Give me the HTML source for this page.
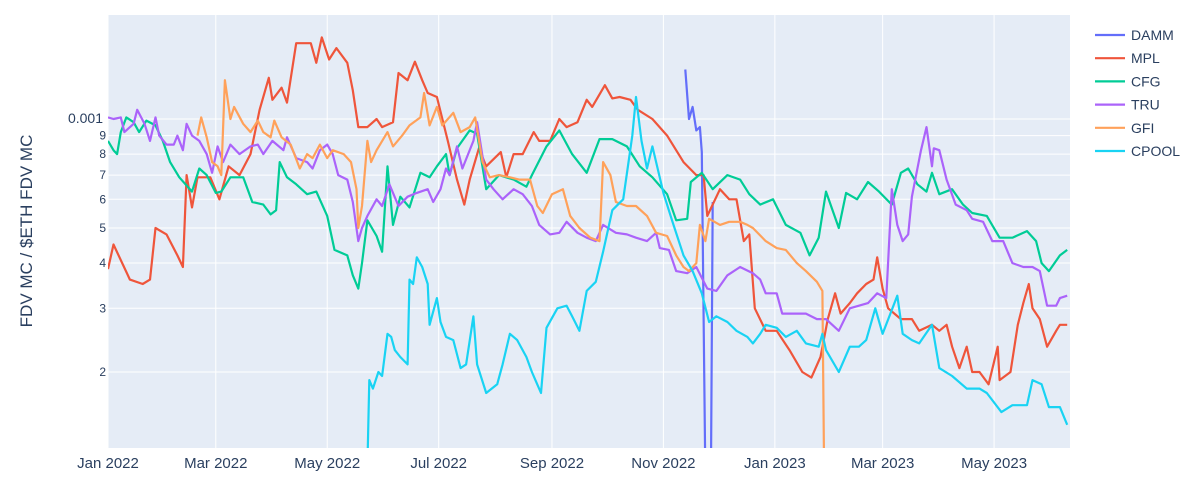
<!DOCTYPE html>
<html><head><meta charset="utf-8"><style>
body{margin:0;background:#fff;font-family:"Liberation Sans",sans-serif;}
svg text{font-family:"Liberation Sans",sans-serif;fill:#2a3f5f;}
</style></head><body>
<svg id="chart" width="1200" height="478" xmlns="http://www.w3.org/2000/svg">
<defs><clipPath id="clip"><rect x="108" y="15" width="962" height="433"/></clipPath></defs>
<rect x="108" y="15" width="962" height="433" fill="#E5ECF6"/>
<g id="grid"></g>
<g id="series" clip-path="url(#clip)"></g>
<g id="axes"></g>
<text transform="translate(32,231) rotate(-90)" text-anchor="middle" font-size="17">FDV MC / $ETH FDV MC</text>
<g id="legend"></g>
</svg>
<script>
// values in units of 1e-4; days since 2022-01-01
const xTickDays = [0,59,120,181,243,304,365,424,485];
const xTickLabels = ["Jan 2022","Mar 2022","May 2022","Jul 2022","Sep 2022","Nov 2022","Jan 2023","Mar 2023","May 2023"];
const yTickVals = [10,9,8,7,6,5,4,3,2];
const yTickLabels = ["0.001","9","8","7","6","5","4","3","2"];
const seriesNames = ["DAMM","MPL","CFG","TRU","GFI","CPOOL"];
const seriesColors = ["#636efa","#EF553B","#00cc96","#ab63fa","#FFA15A","#19d3f3"];

const dammDays = [316,318,320,322,324,325,327,330,331];
const dammVals = [13.7,10,10.8,9.3,9.5,8.1,1.0,1.0,5.9];

const mplDays = [0,3,12,19,23,26,32,38,41,43,46,49,56,61,66,72,78,83,88,90,95,98,103,111,114,117,121,125,131,134,137,142,147,150,156,159,164,168,172,175,180,186,191,195,198,203,207,215,218,222,227,233,236,242,247,251,257,262,265,272,276,280,286,290,298,306,315,322,326,328,335,340,344,348,351,354,360,366,373,380,385,390,394,398,401,406,410,415,419,421,424,427,434,440,444,451,455,459,462,466,470,473,477,482,487,488,494,498,501,504,506,510,514,519,521,525];
const mplVals = [3.85,4.5,3.6,3.5,3.6,5.0,4.8,4.2,3.9,7.0,5.7,6.9,6.9,6.0,7.4,7.0,8.0,10.6,13.0,11.3,12.2,11.1,16.2,16.2,14.3,16.8,14.6,15.7,14.3,12,9.5,9.5,10,9.5,9.8,13.4,12.8,14.4,12.8,11.8,11.5,8.7,6.8,5.8,6.8,8.3,7.4,8.1,6.9,8.0,8.0,9.2,8.7,8.7,10,9.5,9.8,11.3,10.8,12.4,11.4,11.5,11.3,10.6,10,9.0,7.6,7.0,7.0,5.4,6.4,6.0,6.0,4.6,4.8,3.0,2.6,2.6,2.3,2.0,1.93,2.2,2.8,3.3,2.9,3.1,3.3,3.5,3.6,4.15,3.4,3.0,2.8,2.8,2.6,2.7,2.6,2.7,2.35,2.05,2.35,2.0,2.0,1.85,2.35,1.9,2.0,2.7,3.1,3.5,3.0,2.8,2.35,2.6,2.7,2.7];

const cfgDays = [0,3,5,7,10,14,17,21,26,30,34,39,46,50,54,59,62,67,74,79,85,89,92,94,98,103,109,114,120,124,131,134,137,139,142,147,150,153,156,160,165,171,176,180,185,187,191,198,202,207,214,222,229,232,240,247,254,262,269,276,284,291,298,306,311,317,319,325,331,339,346,351,357,364,371,379,384,389,393,400,404,410,416,422,429,434,438,443,448,451,455,462,468,473,481,488,495,503,508,511,515,521,525];
const cfgVals = [8.7,8.2,8.0,9.2,10.1,9.8,9.2,9.9,9.6,8.7,7.6,6.9,6.3,7.3,7.0,6.25,6.3,6.9,6.9,5.9,5.8,5.45,5.6,7.6,6.9,6.6,6.2,6.3,5.4,4.35,4.2,3.7,3.4,4.0,5.25,4.75,4.3,7.4,5.1,6.1,5.7,7.1,6.9,7.4,8.0,7.0,8.3,9.3,9.1,6.4,7.0,6.8,6.5,7.0,8.4,9.3,8.0,7.1,8.8,8.8,8.4,7.4,6.9,6.2,5.25,5.3,6.7,7.1,6.4,7.0,6.8,6.2,5.8,6.0,5.1,4.85,4.2,4.7,6.3,5.0,6.25,6.0,6.7,6.3,5.8,7.1,7.3,6.6,6.3,7.1,6.2,6.4,5.8,5.5,5.4,4.7,4.7,4.9,4.6,4.0,3.8,4.2,4.35];

const truDays = [0,3,7,9,14,16,20,23,26,28,32,36,38,41,43,46,50,54,57,60,63,67,72,78,82,85,90,96,98,103,109,112,116,120,123,126,131,134,137,139,142,147,150,154,159,164,169,175,178,182,185,187,191,194,200,202,207,211,216,222,227,232,236,242,247,251,257,262,267,271,278,284,289,295,300,302,307,311,317,322,328,333,339,346,353,357,360,366,369,375,382,388,393,400,406,411,416,421,426,429,432,435,438,440,445,448,451,452,455,459,464,470,473,479,484,490,495,501,506,510,514,519,521,525];
const truVals = [10.1,10,10.1,9.2,9.7,10.6,9.7,8.7,10.1,9.0,8.5,8.5,9.0,8.2,9.7,9.0,8.7,8.0,7.1,8.4,7.6,8.5,8.0,8.4,8.5,8.0,8.7,8.2,8.9,7.8,7.6,7.3,8.2,8.5,8.0,7.0,6.8,5.9,4.6,5.0,5.4,6.0,5.75,6.6,5.75,6.1,6.25,6.4,5.9,6.4,7.3,7.0,8.4,7.3,8.7,9.8,6.8,6.4,6.0,6.4,6.2,5.75,5.1,4.8,4.85,5.2,4.85,4.7,4.6,5.1,4.85,4.8,4.7,4.6,4.85,4.4,4.35,3.8,3.75,3.9,3.4,3.35,3.7,3.9,3.75,3.6,3.3,3.3,2.9,2.9,2.9,2.8,2.8,2.6,3.0,3.05,3.1,3.3,3.2,6.4,5.1,4.6,4.8,6.1,8.2,9.5,7.4,8.3,8.2,6.8,5.8,5.6,5.3,5.2,4.6,4.6,4.0,3.9,3.9,3.8,3.05,3.05,3.2,3.25];

const gfiDays = [49,51,54,57,60,62,64,67,69,74,78,82,85,89,91,95,100,105,109,112,116,120,123,129,133,136,137,139,142,144,147,153,156,161,165,171,173,176,180,183,189,193,198,201,205,209,214,220,225,231,235,238,243,249,253,258,264,269,271,275,278,284,289,295,300,306,311,315,318,322,324,327,329,335,340,346,350,353,360,366,371,377,382,388,391,392];
const gfiVals = [9.0,10.1,8.9,7.6,7.4,7.0,12.8,10.0,10.8,9.7,9.2,9.9,9.2,8.9,9.9,8.9,8.5,7.3,8.0,7.8,8.5,7.8,8.2,8.0,7.6,6.4,5.0,5.75,8.7,7.6,8.2,9.2,8.4,9.0,9.6,10.1,11.8,9.6,10.8,9.6,10.4,9.2,9.5,10.1,7.6,6.9,7.0,6.9,6.8,6.8,5.75,5.5,6.2,6.4,5.4,5.0,4.7,4.6,7.6,7.0,5.9,5.75,5.75,5.4,4.85,4.75,4.2,3.9,3.8,4.0,5.1,4.6,5.3,5.1,5.2,5.2,5.1,5.0,4.6,4.4,4.35,4.0,3.8,3.55,3.35,1.0];

const cpoolDays = [142,143,145,148,150,153,155,157,160,164,165,167,169,172,175,176,180,182,185,189,193,196,200,202,207,213,216,220,224,229,232,237,240,246,251,254,258,262,267,271,276,282,287,289,292,295,298,304,309,315,320,325,329,333,339,344,350,353,357,360,366,371,377,382,389,391,393,400,406,411,415,420,424,432,435,440,444,451,455,462,470,477,481,489,495,503,506,511,515,521,525];
const cpoolVals = [1.1,1.9,1.8,2.0,1.95,2.55,2.5,2.3,2.2,2.1,3.6,3.5,4.15,3.9,3.5,2.7,3.2,2.75,2.5,2.45,2.05,2.1,2.85,2.1,1.75,1.85,2.1,2.55,2.45,2.2,2.0,1.75,2.65,3.0,3.05,2.85,2.6,3.35,3.55,4.3,5.6,6.0,9.0,11.5,8.7,7.3,8.4,6.25,5.2,4.2,3.8,3.3,2.75,2.85,2.75,2.6,2.5,2.4,2.55,2.7,2.65,2.5,2.6,2.4,2.35,2.55,2.3,2.0,2.35,2.35,2.45,3.0,2.55,3.25,2.55,2.45,2.4,2.7,2.05,1.95,1.8,1.8,1.75,1.55,1.62,1.62,1.9,1.85,1.6,1.6,1.43];

const NS = "http://www.w3.org/2000/svg";
const X0 = 108, PXDAY = 1.827, Y10 = 119, PXDEC = 362;
function xScale(d){ return X0 + d*PXDAY; }
function yScale(v){ return Y10 - PXDEC*Math.log10(v/10); }
function mk(tag, attrs, parent){ const e=document.createElementNS(NS,tag); for(const k in attrs) e.setAttribute(k,attrs[k]); parent.appendChild(e); return e; }

const grid = document.getElementById('grid');
const axes = document.getElementById('axes');
xTickDays.forEach((d,i)=>{
  const x = xScale(d);
  const gl = mk('line',{x1:x,x2:x,y1:15,y2:448,stroke:'#fff','stroke-width':1},grid);
  
  
  const t = mk('text',{x:x,y:468,'text-anchor':'middle','font-size':15},axes);
  t.textContent = xTickLabels[i];
  
  
});
yTickVals.forEach((v,i)=>{
  const y = yScale(v);
  const gl = mk('line',{x1:108,x2:1070,y1:y,y2:y,stroke:'#fff','stroke-width':1},grid);
  
  
  const t = mk('text',{x:i===0?103:106,y:y+4,'text-anchor':'end','font-size':i===0?14:12},axes);
  t.textContent = yTickLabels[i];
  
  
});

const seriesDays = [dammDays,mplDays,cfgDays,truDays,gfiDays,cpoolDays];
const seriesVals = [dammVals,mplVals,cfgVals,truVals,gfiVals,cpoolVals];
const sg = document.getElementById('series');
// draw order: MPL, CFG, TRU, GFI, CPOOL, DAMM? plotly draws in trace order
[0,1,2,3,4,5].forEach(si=>{
  const pts = seriesDays[si].map((d,i)=>xScale(d).toFixed(1)+','+yScale(seriesVals[si][i]).toFixed(1)).join(' ');
  const pl = mk('polyline',{points:pts,fill:'none',stroke:seriesColors[si],'stroke-width':2.2,'stroke-linejoin':'round'},sg);
  
  
});

const lg = document.getElementById('legend');
seriesNames.forEach((n,i)=>{
  const y = 35 + i*23.2;
  const g = mk('g',{},lg);
  
  
  mk('line',{x1:1095,x2:1125,y1:y,y2:y,stroke:seriesColors[i],'stroke-width':2.2},g);
  const t = mk('text',{x:1131,y:y+5,'font-size':14},g);
  t.textContent = n;
});
</script>
</body></html>
